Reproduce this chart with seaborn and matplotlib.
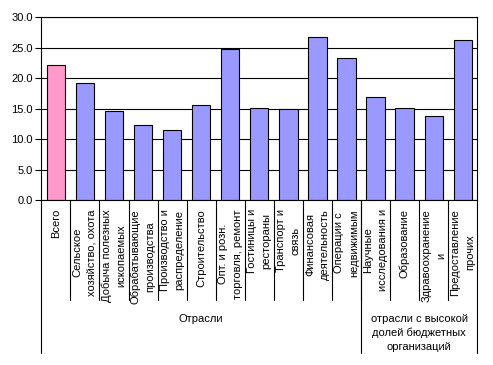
import seaborn as sns
import matplotlib.pyplot as plt
import matplotlib.transforms as mtransforms
import pandas as pd

categories = [
    'Всего',
    'Сельское\nхозяйство, охота',
    'Добыча полезных\nископаемых',
    'Обрабатывающие\nпроизводства',
    'Производство и\nраспределение',
    'Строительство',
    'Опт. и розн.\nторговля, ремонт',
    'Гостиницы и\nрестораны',
    'Транспорт и\nсвязь',
    'Финансовая\nдеятельность',
    'Операции с\nнедвижимым',
    'Научные\nисследования и',
    'Образование',
    'Здравоохранение\nи',
    'Предоставление\nпрочих',
]
values = [22.1, 19.3, 14.6, 12.3, 11.6, 15.6, 24.8, 15.1, 14.9, 26.7, 23.3, 17.0, 15.2, 13.8, 26.2]
groups = ['Отрасли', 'отрасли с высокой\nдолей бюджетных\nорганизаций']
group_sizes = [11, 4]
yticks = [0, 5, 10, 15, 20, 25, 30]

sns.set_style('white')
plt.rcParams['font.family'] = ['Liberation Sans', 'DejaVu Sans']
plt.rcParams['text.color'] = 'black'
plt.rcParams['ytick.color'] = 'black'
plt.rcParams['ytick.labelcolor'] = 'black'

df = pd.DataFrame({'cat': categories, 'val': values})
colors = ['#FF99CC'] + ['#9999FF'] * (len(categories) - 1)

fig = plt.figure(figsize=(4.93, 3.65), dpi=100)
ax = fig.add_axes([0.0838, 0.4512, 0.8844, 0.5014])
sns.barplot(data=df, x='cat', y='val', hue='cat', palette=colors, legend=False,
            width=0.63, edgecolor='black', linewidth=0.8, saturation=1, ax=ax)

ax.set_xlim(-0.5, len(categories) - 0.5)
ax.set_ylim(0, 30)
ax.set_yticks(yticks)
ax.set_yticklabels([f'{t:.1f}' for t in yticks], fontsize=8, color='black')
ax.set_xticks([])
ax.set_xlabel('')
ax.set_ylabel('')
ax.set_axisbelow(True)
ax.yaxis.grid(True, color='black', linewidth=0.8)
ax.tick_params(axis='y', direction='out', length=4, width=0.8, color='black', pad=2, left=True)
for s in ax.spines.values():
    s.set_color('black')
    s.set_linewidth(0.8)

trans = mtransforms.blended_transform_factory(ax.transData, ax.transAxes)
cat_bottom = -0.545
grp_bottom = -0.834

# category labels and separators
for i, lab in enumerate(categories):
    ax.text(i, -0.048, lab, rotation=90, ha='center', va='top', multialignment='center',
            fontsize=8, linespacing=1.6, color='black', transform=trans)
for k in range(1, len(categories)):
    ax.plot([k - 0.5, k - 0.5], [0, cat_bottom], color='black', lw=0.8,
            transform=trans, clip_on=False)

# group labels and separators
start = 0
edges = [-0.5]
for name, n in zip(groups, group_sizes):
    center = start + (n - 1) / 2
    ax.text(center, -0.62, name, ha='center', va='top', fontsize=8, linespacing=1.5,
            color='black', transform=trans)
    start += n
    edges.append(start - 0.5)
for e in edges:
    ax.plot([e, e], [0, grp_bottom], color='black', lw=0.8, transform=trans, clip_on=False)

fig.savefig('out.png', dpi=100)
